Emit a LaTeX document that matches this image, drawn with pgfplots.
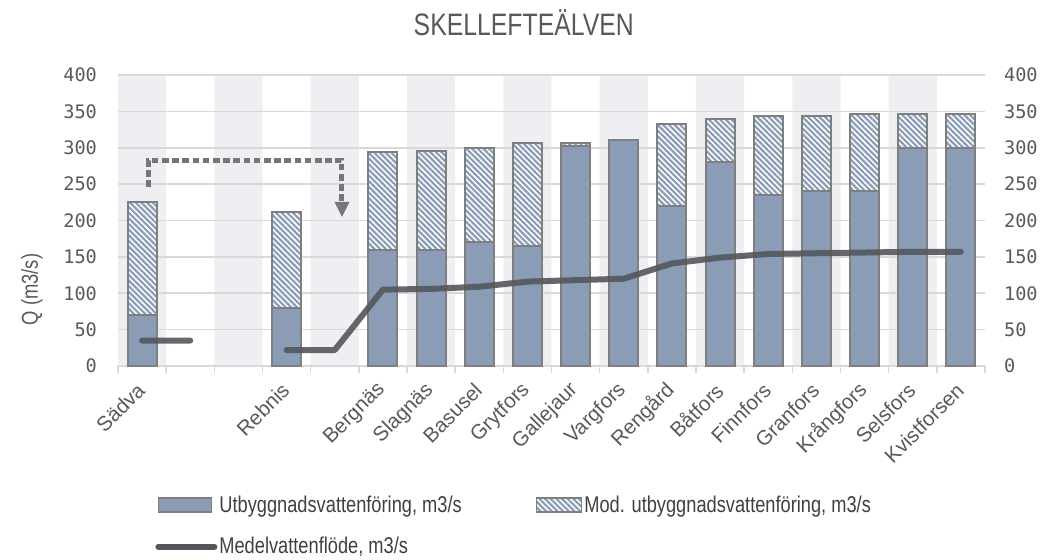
\documentclass[border=0pt]{standalone}
\usepackage{fontspec}
\usepackage{pgfplots}
\usepackage{pgfplotstable}
\pgfplotsset{compat=1.18}
\usetikzlibrary{patterns.meta,arrows.meta}
\setmainfont{Liberation Sans}
\newfontfamily\condfont{Liberation Sans}[FakeStretch=0.8]
\newfontfamily\monofont{DejaVu Sans Mono}
\definecolor{band}{RGB}{238,239,243}
\definecolor{gridc}{RGB}{217,217,217}
\definecolor{barc}{RGB}{139,156,183}
\definecolor{edgec}{RGB}{127,127,127}
\definecolor{linec}{RGB}{84,87,92}
\definecolor{textc}{RGB}{89,89,89}
\definecolor{arrc}{RGB}{118,118,118}

\pgfplotstableread{
x base total
0 70 225
3 80 212
5 160 294
6 160 296
7 170 300
8 165 307
9 303 307
10 310 310
11 220 332
12 280 339
13 235 344
14 240 344
15 240 346
16 300 346
17 300 347
}\bars

\pgfplotstableread{
x q
0 35
1 35
2 nan
3 22
4 22
5 105
6 106
7 109
8 116
9 118
10 120
11 141
12 149
13 154
14 155
15 156
16 157
17 157
}\flow

\pgfplotstableread{
x h
0 400
2 400
4 400
6 400
8 400
10 400
12 400
14 400
16 400
}\bands

\begin{document}
\begin{tikzpicture}
\useasboundingbox (-59pt,-96.5pt) rectangle (466.5pt,183pt);
\pgfplotsset{common/.style={width=433.5pt,height=145.5pt,scale only axis,
  at={(0pt,0pt)},anchor=south west,xmin=-0.5,xmax=17.5,ymin=0,ymax=400,
  enlargelimits=false,
  /pgf/number format/assume math mode=true}}
% background bands + left labels
\begin{axis}[common,
  axis line style={draw=none},
  xtick=\empty,
  ytick={0,50,...,400},
  major tick length=0pt,
  ytick pos=left,
  yticklabel style={font=\monofont\fontsize{9.3}{10}\selectfont,text=textc,xshift=-7pt},
  ylabel={\condfont\fontsize{11.5}{13}\selectfont Q (m3/s)},
  ylabel style={at={(axis description cs:-0.0992,0.263)},anchor=center,text=textc},
]
\addplot[ybar,bar width=1,bar shift=0pt,fill=band,draw=none] table[x=x,y=h]{\bands};
\end{axis}
% main
\begin{axis}[common,
  axis line style={draw=none},
  ymajorgrids,
  grid style={gridc,line width=0.8pt},
  ytick={0,50,...,400},
  ytick pos=right,
  yticklabel pos=right,
  yticklabel style={font=\monofont\fontsize{9.3}{10}\selectfont,text=textc,xshift=6pt},
  xtick={0,...,17},
  xticklabels={Sädva,{},{},Rebnis,{},Bergnäs,Slagnäs,Basusel,Grytfors,Gallejaur,Vargfors,Rengård,Båtfors,Finnfors,Granfors,Krångfors,Selsfors,Kvistforsen},
  minor xtick={-0.5,0.5,...,17.5},
  xtick pos=left,
  tick align=outside,
  major tick length=0pt,
  minor tick length=3.5pt,
  minor tick style={gridc,line width=0.8pt},
  xticklabel style={xshift=2pt,yshift=-8pt,rotate=45,anchor=east,font=\fontsize{10.3}{12}\selectfont,text=textc},
  unbounded coords=jump,
  title={\condfont\fontsize{15.5}{17}\selectfont SKELLEFTEÄLVEN},
  title style={at={(axis description cs:0.468,1.14)},anchor=center,text=textc},
  legend columns=2,
  legend cell align=left,
  legend style={at={(axis description cs:0.0427,-0.43)},anchor=north west,draw=none,fill=none,
    font=\condfont\fontsize{11.4}{13}\selectfont,text=black!75,
    nodes={inner xsep=1pt},
    /tikz/every even column/.append style={column sep=36pt},
    row sep=7pt,inner sep=0pt},
]
\addplot[ybar,bar width=0.6,bar shift=0pt,draw=edgec,line width=1pt,fill=white,
  postaction={pattern={Lines[angle=-45,distance=2pt,line width=1.1pt]},pattern color=barc},forget plot]
  table[x=x,y=total]{\bars};
\addplot[ybar,bar width=0.6,bar shift=0pt,draw=edgec,line width=1pt,fill=barc,forget plot]
  table[x=x,y=base]{\bars};
\addplot[linec,opacity=0.9,line width=3pt,line cap=round,line join=round,forget plot]
  table[x=x,y=q]{\flow};
\draw[arrc,line width=2.5pt,dash pattern=on 3.3pt off 1.8pt]
  (axis cs:0.125,246) -- (axis cs:0.125,283) -- (axis cs:4.15,283) -- (axis cs:4.15,218);
\fill[arrc] (axis cs:4.15,205) -- ++(-3.75pt,7.5pt) -- ++(7.5pt,0pt) -- cycle;
\addlegendimage{legend image code/.code={\draw[fill=barc,draw=edgec,line width=0.8pt] (0pt,-3.5pt) rectangle (26.5pt,3.5pt);}}
\addlegendentry{Utbyggnadsvattenföring, m3/s}
\addlegendimage{legend image code/.code={\draw[fill=white,draw=edgec,line width=0.8pt,postaction={pattern={Lines[angle=-45,distance=2pt,line width=1.1pt]},pattern color=barc}] (0pt,-3.5pt) rectangle (22.5pt,3.5pt);}}
\addlegendentry{Mod. utbyggnadsvattenföring, m3/s}
\addlegendimage{legend image code/.code={\draw[linec,line width=3pt,line cap=round] (0pt,0pt) -- (28pt,0pt);}}
\addlegendentry{Medelvattenflöde, m3/s}
\end{axis}
\end{tikzpicture}
\end{document}
